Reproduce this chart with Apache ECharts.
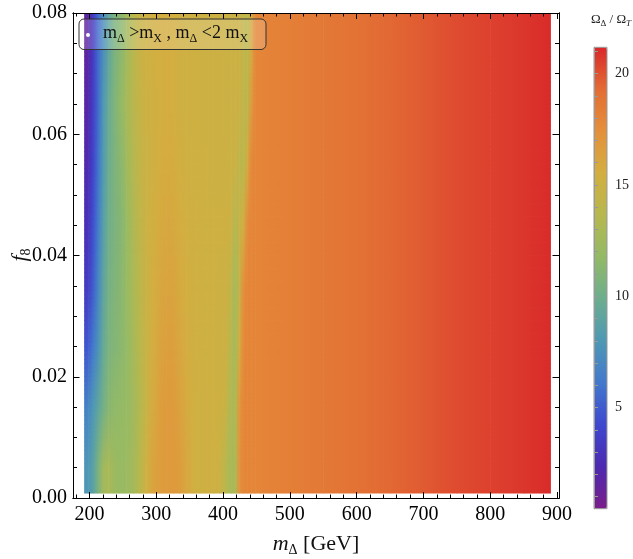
<!DOCTYPE html>
<html>
<head>
<meta charset="utf-8">
<script src="https://cdn.jsdelivr.net/npm/echarts@6/dist/echarts.min.js"></script>
<style>
  html, body { margin: 0; padding: 0; background: #fff; }
  #main { width: 633px; height: 559px; }
</style>
</head>
<body>
<div id="main"></div>
<script>
// m_Delta grid nodes (GeV) and f_8 row centres
const massNodes = [192, 198, 205, 212, 220, 228, 236, 245, 255, 265, 275, 285, 295, 305, 315, 325, 335, 345, 355, 365,
  375, 385, 395, 405, 412, 418, 424, 430, 436, 442, 448, 455, 470, 500, 550, 600, 650, 700, 750, 800, 850, 890];
const f8Rows = [0.005, 0.015, 0.025, 0.035, 0.045, 0.055, 0.065, 0.075];
const f8Range = [0.0008, 0.08];

const ratioF005 = [7.8, 8.0, 8.8, 10.5, 12.5, 13.0, 12.3, 12.0, 12.2, 12.6, 13.8, 15.2, 16.2, 16.6, 16.8, 16.8, 16.6, 16.0, 15.4, 15.2,
  15.2, 15.3, 15.0, 13.6, 12.8, 13.2, 17.2, 18.0, 18.0, 18.0, 18.0, 18.0, 18.1, 18.3, 18.6, 19.0, 19.4, 19.8, 20.2, 20.5, 20.8, 21.1];
const ratioF015 = [6.5, 7.0, 8.0, 9.0, 10.2, 11.2, 11.6, 11.8, 12.0, 12.5, 13.5, 14.8, 15.8, 16.5, 16.8, 16.8, 16.3, 15.8, 15.4, 15.2,
  15.2, 15.2, 15.2, 14.6, 13.0, 13.4, 17.0, 18.0, 18.0, 18.0, 18.0, 18.0, 18.1, 18.3, 18.6, 19.0, 19.4, 19.8, 20.2, 20.5, 20.8, 21.1];
const ratioF025 = [4.5, 5.0, 6.2, 7.5, 9.5, 10.6, 11.0, 11.3, 11.8, 12.8, 13.8, 14.8, 15.6, 16.2, 16.5, 16.5, 16.0, 15.6, 15.3, 15.2,
  15.2, 15.2, 15.1, 15.0, 13.5, 12.8, 15.5, 17.8, 18.0, 18.0, 18.0, 18.0, 18.1, 18.3, 18.6, 19.0, 19.4, 19.8, 20.2, 20.5, 20.8, 21.1];
const ratioF035 = [3.2, 3.6, 5.0, 6.8, 9.0, 10.3, 10.8, 11.2, 12.0, 13.0, 14.0, 14.9, 15.5, 16.0, 16.2, 16.2, 15.8, 15.5, 15.3, 15.2,
  15.2, 15.2, 15.1, 15.1, 14.0, 12.8, 14.5, 17.5, 18.0, 18.0, 18.0, 18.0, 18.1, 18.3, 18.6, 19.0, 19.4, 19.8, 20.2, 20.5, 20.8, 21.1];
const ratioF045 = [2.5, 3.0, 4.5, 6.2, 8.5, 10.0, 10.6, 11.0, 12.0, 13.2, 14.2, 15.0, 15.4, 15.8, 16.0, 15.9, 15.6, 15.4, 15.3, 15.2,
  15.2, 15.2, 15.2, 15.2, 15.0, 13.3, 14.8, 15.3, 17.8, 18.0, 18.0, 18.0, 18.1, 18.3, 18.6, 19.0, 19.4, 19.8, 20.2, 20.5, 20.8, 21.1];
const ratioF055 = [2.0, 2.5, 4.0, 5.8, 8.2, 9.8, 10.6, 11.2, 12.4, 13.5, 14.4, 15.0, 15.3, 15.6, 15.8, 15.7, 15.4, 15.3, 15.2, 15.2,
  15.2, 15.1, 15.1, 15.1, 15.0, 15.0, 14.2, 13.8, 15.8, 18.0, 18.0, 18.0, 18.1, 18.3, 18.6, 19.0, 19.4, 19.8, 20.2, 20.5, 20.8, 21.1];
const ratioF065 = [1.6, 2.2, 3.6, 5.5, 8.0, 9.6, 10.7, 11.6, 12.8, 13.8, 14.6, 15.1, 15.3, 15.5, 15.6, 15.5, 15.3, 15.2, 15.2, 15.2,
  15.1, 15.1, 15.1, 15.0, 15.0, 15.0, 15.0, 14.2, 14.0, 16.8, 18.0, 18.0, 18.1, 18.3, 18.6, 19.0, 19.4, 19.8, 20.2, 20.5, 20.8, 21.1];
const ratioF075 = [1.3, 2.0, 3.3, 5.5, 7.3, 9.0, 10.5, 11.2, 12.5, 13.8, 14.8, 15.2, 15.4, 15.5, 15.6, 15.5, 15.3, 15.2, 15.2, 15.2,
  15.1, 15.1, 15.1, 15.0, 15.0, 15.0, 15.0, 14.4, 13.9, 15.8, 18.0, 18.0, 18.1, 18.3, 18.6, 19.0, 19.4, 19.8, 20.2, 20.5, 20.8, 21.1];
const ratioRows = [ratioF005, ratioF015, ratioF025, ratioF035, ratioF045, ratioF055, ratioF065, ratioF075];

const xTickLabels = [200, 300, 400, 500, 600, 700, 800, 900];
const yTickLabels = [0, 0.02, 0.04, 0.06, 0.08];
const barTickLabels = [5, 10, 15, 20];
const barRange = [0.46, 21.18];

// Mathematica-like "Rainbow" palette
const rainbow = ['#7a1e8a', '#4c29b0', '#3e48cf', '#4278cc', '#4e98b5', '#6cad8e',
  '#93ba66', '#b6b84e', '#d3ae40', '#e4903a', '#e36c34', '#d9282a'];

const serif = '"Liberation Serif", "DejaVu Serif", serif';

const cells = [];
ratioRows.forEach((row, r) => {
  row.forEach((v, c) => cells.push([massNodes[c], f8Rows[r], v, r, c]));
});

const nCols = massNodes.length;
const nRows = f8Rows.length;
const SLICES = 14;

// strip of one column between two f8 levels, colours blended top/bottom
function strip(api, x0, x1, yA, yB, cl0, cr0, cl1, cr1, k) {
  const out = [];
  for (let j = 0; j < k; j++) {
    const t = k === 1 ? 0 : (j + 0.5) / k;
    const ya = yA + (yB - yA) * j / k;
    const yb = yA + (yB - yA) * (j + 1) / k;
    const p0 = api.coord([x0, yb]);
    const p1 = api.coord([x1, ya]);
    const left = echarts.color.lerp(t, [cl0, cl1]);
    const right = echarts.color.lerp(t, [cr0, cr1]);
    out.push({
      type: 'rect',
      shape: { x: p0[0], y: p0[1] - 0.4, width: p1[0] - p0[0] + 0.6, height: p1[1] - p0[1] + 0.8 },
      style: {
        fill: new echarts.graphic.LinearGradient(0, 0, 1, 0, [
          { offset: 0, color: left }, { offset: 1, color: right }
        ])
      }
    });
  }
  return out;
}

function renderCell(params, api) {
  const c = api.value(4);
  const r = api.value(3);
  if (c >= nCols - 1) return null;
  const idx = params.dataIndexInside;
  const x0 = api.value(0), x1 = massNodes[c + 1];
  const yc = api.value(1);
  const cA = api.visual('color', idx);
  const cB = api.visual('color', idx + 1);
  let children = [];
  if (r === 0) {
    children = children.concat(strip(api, x0, x1, f8Range[0], yc, cA, cB, cA, cB, 1));
  }
  if (r < nRows - 1) {
    const cC = api.visual('color', idx + nCols);
    const cD = api.visual('color', idx + nCols + 1);
    children = children.concat(strip(api, x0, x1, yc, f8Rows[r + 1], cA, cB, cC, cD, SLICES));
  } else {
    children = children.concat(strip(api, x0, x1, yc, f8Range[1], cA, cB, cA, cB, 1));
  }
  return { type: 'group', children: children };
}

const black = '#000';
const tickFont = { fontFamily: serif, fontSize: 20, color: black };

function frameAxis(extra) {
  return Object.assign({
    type: 'value', gridIndex: 0, z: 10,
    axisLine: { show: true, onZero: false, lineStyle: { color: black, width: 1 } },
    splitLine: { show: false },
    axisLabel: { show: false }
  }, extra);
}

const option = {
  animation: false,
  backgroundColor: '#fff',
  grid: [
    { left: 73, top: 13, width: 486, height: 485 },
    { left: 594, top: 47.3, width: 13, height: 461.4 }
  ],
  xAxis: [
    frameAxis({ position: 'bottom', min: 175.3, max: 903,
      axisTick: { inside: true, length: 6, customValues: xTickLabels, lineStyle: { color: black } },
      axisLabel: Object.assign({ show: true, margin: 7, customValues: xTickLabels }, tickFont) }),
    frameAxis({ position: 'bottom', min: 175.3, max: 903,
      axisTick: { inside: true, length: 3.5, customValues: [180, 220, 240, 260, 280, 320, 340, 360, 380, 420, 440, 460, 480,
        520, 540, 560, 580, 620, 640, 660, 680, 720, 740, 760, 780, 820, 840, 860, 880], lineStyle: { color: black } } }),
    frameAxis({ position: 'top', min: 175.3, max: 903,
      axisTick: { inside: true, length: 6, customValues: xTickLabels, lineStyle: { color: black } } }),
    frameAxis({ position: 'top', min: 175.3, max: 903,
      axisTick: { inside: true, length: 3.5, customValues: [180, 220, 240, 260, 280, 320, 340, 360, 380, 420, 440, 460, 480,
        520, 540, 560, 580, 620, 640, 660, 680, 720, 740, 760, 780, 820, 840, 860, 880], lineStyle: { color: black } } }),
    { type: 'value', gridIndex: 1, min: 0, max: 1, show: false }
  ],
  yAxis: [
    frameAxis({ position: 'left', min: 0, max: 0.08,
      axisTick: { inside: true, length: 6.5, customValues: yTickLabels, lineStyle: { color: black } },
      axisLabel: Object.assign({ show: true, margin: 6, customValues: yTickLabels,
        formatter: v => v.toFixed(2) }, tickFont) }),
    frameAxis({ position: 'left', min: 0, max: 0.08,
      axisTick: { inside: true, length: 4, customValues: [0.005, 0.01, 0.015, 0.025, 0.03, 0.035, 0.045, 0.05, 0.055,
        0.065, 0.07, 0.075], lineStyle: { color: black } } }),
    frameAxis({ position: 'right', min: 0, max: 0.08,
      axisTick: { inside: true, length: 6.5, customValues: yTickLabels, lineStyle: { color: black } } }),
    frameAxis({ position: 'right', min: 0, max: 0.08,
      axisTick: { inside: true, length: 4, customValues: [0.005, 0.01, 0.015, 0.025, 0.03, 0.035, 0.045, 0.05, 0.055,
        0.065, 0.07, 0.075], lineStyle: { color: black } } }),
    {
      type: 'value', gridIndex: 1, position: 'right', min: barRange[0], max: barRange[1], z: 10,
      axisLine: { show: true, lineStyle: { color: '#999', width: 1 } },
      splitLine: { show: false },
      axisTick: { show: true, length: 4, lineStyle: { color: '#999' },
        customValues: [1, 2, 3, 4, 5, 6, 7, 8, 9, 10, 11, 12, 13, 14, 15, 16, 17, 18, 19, 20, 21] },
      axisLabel: { show: true, margin: 8, customValues: barTickLabels, fontFamily: serif, fontSize: 14, color: '#222' }
    }
  ],
  visualMap: {
    type: 'continuous',
    min: barRange[0], max: barRange[1],
    dimension: 2, seriesIndex: 0,
    calculable: false, hoverLink: false,
    orient: 'vertical',
    left: 594, top: 47.3, padding: 0,
    itemWidth: 13, itemHeight: 461.4,
    inRange: { color: rainbow }
  },
  series: [{
    type: 'custom',
    coordinateSystem: 'cartesian2d',
    xAxisIndex: 0, yAxisIndex: 0,
    clip: true, z: 1,
    encode: { x: 0, y: 1 },
    renderItem: renderCell,
    data: cells
  }],
  graphic: [
    // legend box
    { type: 'rect', z: 20, shape: { x: 79, y: 19, width: 187, height: 30.5, r: 5 },
      style: { fill: 'rgba(255,255,255,0.18)', stroke: '#333', lineWidth: 1 } },
    { type: 'circle', z: 21, shape: { cx: 88, cy: 35, r: 2 }, style: { fill: '#fff' } },
    { type: 'text', z: 21, x: 103, y: 33,
      style: {
        text: 'm{s|Δ} >m{s|X} , m{s|Δ} <2 m{s|X}',
        fontFamily: serif, fontSize: 18, lineHeight: 24, fill: '#111', verticalAlign: 'middle',
        rich: { s: { fontFamily: serif, fontSize: 12, lineHeight: 12, verticalAlign: 'bottom', fill: '#111' } }
      } },
    // colour bar outline and title
    { type: 'rect', z: 20, shape: { x: 594, y: 47.3, width: 13, height: 461.4 },
      style: { fill: 'none', stroke: '#999', lineWidth: 1 } },
    { type: 'text', z: 21, x: 611, y: 20,
      style: {
        text: 'Ω{s|Δ} / Ω{t|T}',
        fontFamily: serif, fontSize: 13, lineHeight: 16, fill: '#222', align: 'center', verticalAlign: 'middle',
        rich: {
          s: { fontFamily: serif, fontSize: 9, lineHeight: 9, verticalAlign: 'bottom', fill: '#222' },
          t: { fontFamily: serif, fontSize: 9, lineHeight: 9, verticalAlign: 'bottom', fontStyle: 'italic', fill: '#222' }
        }
      } },
    // axis names
    { type: 'text', z: 21, x: 316, y: 544,
      style: {
        text: '{i|m}{s|Δ} [GeV]',
        fontFamily: serif, fontSize: 22, lineHeight: 26, fill: '#111', align: 'center', verticalAlign: 'middle',
        rich: {
          i: { fontFamily: serif, fontSize: 22, lineHeight: 26, fontStyle: 'italic', verticalAlign: 'middle', fill: '#111' },
          s: { fontFamily: serif, fontSize: 14, lineHeight: 14, verticalAlign: 'bottom', fill: '#111' }
        }
      } },
    { type: 'text', z: 21, x: 20, y: 255, rotation: Math.PI / 2,
      style: {
        text: '{i|f}{s|8}',
        fontFamily: serif, fontSize: 22, lineHeight: 26, fill: '#111', align: 'center', verticalAlign: 'middle',
        rich: {
          i: { fontFamily: serif, fontSize: 22, lineHeight: 26, fontStyle: 'italic', verticalAlign: 'middle', fill: '#111' },
          s: { fontFamily: serif, fontSize: 14, lineHeight: 14, verticalAlign: 'bottom', fill: '#111' }
        }
      } }
  ]
};

const chart = echarts.init(document.getElementById('main'), null, { renderer: 'canvas' });
chart.setOption(option);
</script>
</body>
</html>
